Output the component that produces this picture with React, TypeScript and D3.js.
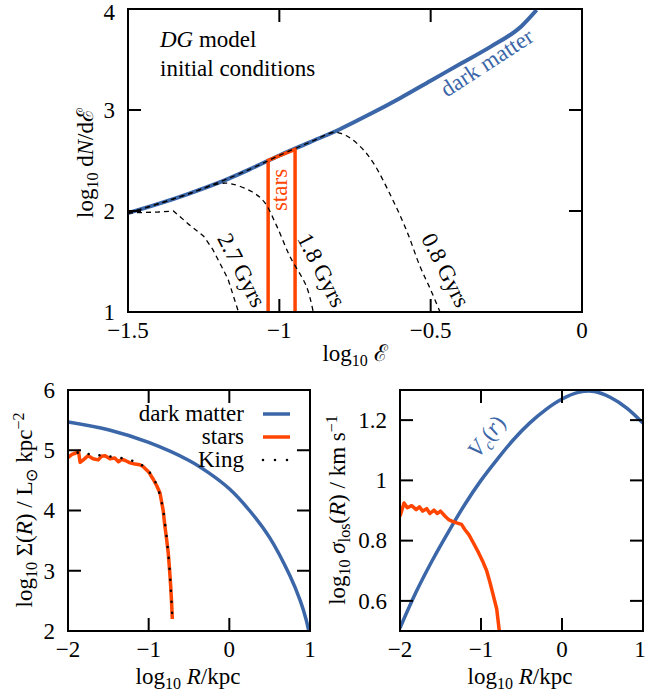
import React from "react";
import * as d3 from "d3";

// top panel: log10 dN/dE versus log10 E
const dmE = [-1.5, -1.4, -1.3, -1.2, -1.1, -1.0, -0.9, -0.8, -0.7, -0.6, -0.5, -0.4, -0.3, -0.2, -0.15];
const dmN = [1.98, 2.07, 2.17, 2.28, 2.41, 2.55, 2.68, 2.81, 2.96, 3.12, 3.29, 3.46, 3.63, 3.83, 3.99];

const gyr27E = [-1.5, -1.45, -1.4, -1.35, -1.3, -1.25, -1.22, -1.17, -1.135];
const gyr27N = [1.98, 1.985, 1.99, 2.0, 1.87, 1.75, 1.62, 1.33, 1.0];
const gyr18E = [-1.5, -1.4, -1.3, -1.2, -1.16, -1.09, -1.05, -1.01, -0.965, -0.91, -0.888];
const gyr18N = [1.98, 2.07, 2.17, 2.27, 2.27, 2.19, 2.09, 1.86, 1.55, 1.25, 1.0];
const gyr08E = [-1.5, -1.3, -1.1, -1.0, -0.9, -0.82, -0.8, -0.77, -0.73, -0.69, -0.63, -0.58, -0.535, -0.5, -0.469];
const gyr08N = [1.98, 2.17, 2.41, 2.55, 2.68, 2.78, 2.77, 2.73, 2.63, 2.48, 2.14, 1.81, 1.45, 1.22, 1.0];

const starsE = [-1.037, -0.948];
const starsTop = [2.5, 2.61];

const topXTicks = [-1.5, -1, -0.5, 0];
const topYTicks = [1, 2, 3, 4];

// bottom left: surface density
const dmR = [-2, -1.5, -1, -0.5, -0.25, 0, 0.25, 0.5, 0.75, 0.88, 0.95, 0.985];
const dmSigma = [5.47, 5.34, 5.13, 4.83, 4.62, 4.36, 4.0, 3.55, 2.92, 2.5, 2.2, 2.0];

const starR = [-2.0, -1.95, -1.91, -1.87, -1.85, -1.81, -1.75, -1.69, -1.625, -1.585, -1.54, -1.48, -1.42, -1.375, -1.33, -1.29, -1.23, -1.17, -1.11, -1.07, -1.0, -0.94, -0.9, -0.86, -0.82, -0.8, -0.78, -0.757, -0.74, -0.727, -0.715, -0.707];
const starSigma = [4.88, 4.93, 4.95, 4.98, 4.8, 4.84, 4.91, 4.86, 4.84, 4.9, 4.91, 4.86, 4.87, 4.81, 4.85, 4.83, 4.79, 4.77, 4.76, 4.73, 4.64, 4.51, 4.41, 4.29, 4.0, 3.75, 3.55, 3.29, 3.0, 2.74, 2.45, 2.2];

const kingR = [-1.88, -1.7, -1.5, -1.3, -1.15, -1.05, -0.97, -0.9, -0.85, -0.82, -0.79, -0.765, -0.745, -0.73, -0.715, -0.703];
const kingSigma = [4.96, 4.93, 4.9, 4.86, 4.8, 4.72, 4.6, 4.42, 4.2, 4.0, 3.7, 3.4, 3.1, 2.8, 2.45, 2.13];

const blXTicks = [-2, -1, 0, 1];
const blYTicks = [2, 3, 4, 5, 6];

// bottom right: velocity dispersion
const vcR = [-2, -1.8, -1.6, -1.4, -1.2, -1.0, -0.8, -0.6, -0.4, -0.2, 0, 0.2, 0.4, 0.6, 0.8, 1.0];
const vc = [0.51, 0.63, 0.735, 0.83, 0.92, 1.0, 1.07, 1.135, 1.19, 1.235, 1.27, 1.292, 1.295, 1.275, 1.24, 1.19];

const sigR = [-2.0, -1.95, -1.91, -1.856, -1.8, -1.76, -1.72, -1.67, -1.63, -1.58, -1.54, -1.5, -1.44, -1.4, -1.36, -1.3, -1.24, -1.2, -1.15, -1.095, -1.03, -0.972, -0.93, -0.889, -0.85, -0.806, -0.774];
const sig = [0.881, 0.925, 0.909, 0.916, 0.903, 0.912, 0.898, 0.906, 0.89, 0.901, 0.89, 0.898, 0.88, 0.87, 0.865, 0.859, 0.854, 0.837, 0.82, 0.793, 0.76, 0.727, 0.7, 0.661, 0.62, 0.573, 0.5];

const brXTicks = [-2, -1, 0, 1];
const brYTicks = [0.6, 0.8, 1, 1.2];

const BLUE = "#3b66a8";
const ORANGE = "#ff4500";
const FONT = "'Liberation Serif', serif";
const FS = 23;
const SUB = 16;
const fmt = d3.format("~g");

type Scale = d3.ScaleLinear<number, number>;

const pts = (xs: number[], ys: number[]) => xs.map((v, i) => [v, ys[i]] as [number, number]);

function Frame({ x, y, xTicks, yTicks }: { x: Scale; y: Scale; xTicks: number[]; yTicks: number[] }) {
	const [x0, x1] = x.range();
	const [y0, y1] = y.range();
	const tl = 13;
	return (
		<g>
			{xTicks.map(t => {
				// keep the last label inside the picture
				const px = Math.min(x(t), 640);
				return (
					<g key={"x" + t}>
						<line x1={x(t)} x2={x(t)} y1={y0} y2={y0 - tl} stroke="black" strokeWidth={2} />
						<line x1={x(t)} x2={x(t)} y1={y1} y2={y1 + tl} stroke="black" strokeWidth={2} />
						<text x={px} y={y0 + 26} textAnchor="middle">{fmt(t)}</text>
					</g>
				);
			})}
			{yTicks.map(t => (
				<g key={"y" + t}>
					<line x1={x0} x2={x0 + tl} y1={y(t)} y2={y(t)} stroke="black" strokeWidth={2} />
					<line x1={x1} x2={x1 - tl} y1={y(t)} y2={y(t)} stroke="black" strokeWidth={2} />
					<text x={x0 - 13} y={Math.max(y(t), 12)} dy="0.34em" textAnchor="end">{fmt(t)}</text>
				</g>
			))}
			<rect x={x0} y={y1} width={x1 - x0} height={y0 - y1} fill="none" stroke="black" strokeWidth={2} />
		</g>
	);
}

const Sub = ({ children }: { children: React.ReactNode }) => (
	<>
		<tspan dy="5" fontSize={SUB}>{children}</tspan>
		<tspan dy="-5"> </tspan>
	</>
);

export default function App() {
	// top panel
	const tx = d3.scaleLinear().domain([-1.5, 0]).range([128, 582]);
	const ty = d3.scaleLinear().domain([1, 4]).range([312, 9]);
	const tLine = d3.line<[number, number]>().x(d => tx(d[0])).y(d => ty(d[1])).curve(d3.curveMonotoneX);
	const tDash = d3.line<[number, number]>().x(d => tx(d[0])).y(d => ty(d[1])).curve(d3.curveCatmullRom);
	const tRaw = d3.line<[number, number]>().x(d => tx(d[0])).y(d => ty(d[1]));
	const bandPts: [number, number][] = [
		[starsE[0], 1], [starsE[0], starsTop[0]], [starsE[1], starsTop[1]], [starsE[1], 1],
	];

	// bottom left
	const lx = d3.scaleLinear().domain([-2, 1]).range([68, 310]);
	const ly = d3.scaleLinear().domain([2, 6]).range([631, 390]);
	const lSmooth = d3.line<[number, number]>().x(d => lx(d[0])).y(d => ly(d[1])).curve(d3.curveCatmullRom);
	const lRaw = d3.line<[number, number]>().x(d => lx(d[0])).y(d => ly(d[1]));

	// bottom right
	const rx = d3.scaleLinear().domain([-2, 1]).range([400, 643]);
	const ry = d3.scaleLinear().domain([0.5, 1.3]).range([631, 390]);
	const rSmooth = d3.line<[number, number]>().x(d => rx(d[0])).y(d => ry(d[1])).curve(d3.curveCatmullRom);
	const rRaw = d3.line<[number, number]>().x(d => rx(d[0])).y(d => ry(d[1]));

	return (
		<svg width={645} height={695} style={{ position: "absolute", left: 0, top: 0 }}
			fontFamily={FONT} fontSize={FS} fill="black">
			<defs>
				<clipPath id="ctop"><rect x={128} y={9} width={454} height={303} /></clipPath>
				<clipPath id="cbl"><rect x={68} y={390} width={242} height={241} /></clipPath>
				<clipPath id="cbr"><rect x={400} y={390} width={243} height={241} /></clipPath>
			</defs>

			{/* top panel */}
			<g clipPath="url(#ctop)">
				<path d={tLine(pts(dmE, dmN)) || ""} fill="none" stroke={BLUE} strokeWidth={4} />
				<path d={tRaw(bandPts) || ""} fill="none" stroke={ORANGE} strokeWidth={3.5} />
				<path d={tRaw(pts(gyr27E, gyr27N)) || ""} fill="none" stroke="black" strokeWidth={1.3} strokeDasharray="5,4" />
				{[pts(gyr18E, gyr18N), pts(gyr08E, gyr08N)].map((p, i) => (
					<path key={i} d={tDash(p) || ""} fill="none" stroke="black" strokeWidth={1.3} strokeDasharray="5,4" />
				))}
			</g>
			<Frame x={tx} y={ty} xTicks={topXTicks} yTicks={topYTicks} />
			<text x={160} y={47}><tspan fontStyle="italic">DG</tspan> model</text>
			<text x={160} y={76}>initial conditions</text>
			<text transform="translate(491,69) rotate(-33)" textAnchor="middle" fill={BLUE}>dark matter</text>
			<text transform="translate(287,190) rotate(-90)" textAnchor="middle" fill={ORANGE}>stars</text>
			<text transform="translate(242,270) rotate(63)" textAnchor="middle" dy="0.35em">2.7 Gyrs</text>
			<text transform="translate(322,270) rotate(63)" textAnchor="middle" dy="0.35em">1.8 Gyrs</text>
			<text transform="translate(446,270) rotate(63)" textAnchor="middle" dy="0.35em">0.8 Gyrs</text>
			<text x={355} y={361} textAnchor="middle">log<Sub>10</Sub> <tspan>ℰ</tspan></text>
			<text transform="translate(93,163) rotate(-90)" textAnchor="middle">
				log<Sub>10</Sub> d<tspan fontStyle="italic">N</tspan>/dℰ
			</text>

			{/* bottom left */}
			<g clipPath="url(#cbl)">
				<path d={lSmooth(pts(dmR, dmSigma)) || ""} fill="none" stroke={BLUE} strokeWidth={3.5} />
				<path d={lRaw(pts(starR, starSigma)) || ""} fill="none" stroke={ORANGE} strokeWidth={3.5} strokeLinejoin="round" />
				<path d={lSmooth(pts(kingR, kingSigma)) || ""} fill="none" stroke="black" strokeWidth={2.6}
					strokeDasharray="0,11" strokeLinecap="round" />
			</g>
			<Frame x={lx} y={ly} xTicks={blXTicks} yTicks={blYTicks} />
			<g textAnchor="end">
				<text x={244} y={421}>dark matter</text>
				<text x={244} y={444}>stars</text>
				<text x={244} y={467}>King</text>
			</g>
			<line x1={263} x2={290} y1={414} y2={414} stroke={BLUE} strokeWidth={3.5} />
			<line x1={263} x2={290} y1={437} y2={437} stroke={ORANGE} strokeWidth={3.5} />
			<line x1={263} x2={290} y1={460} y2={460} stroke="black" strokeWidth={2.6} strokeDasharray="0,12" strokeLinecap="round" />
			<text x={188} y={684} textAnchor="middle">log<Sub>10</Sub> <tspan fontStyle="italic">R</tspan>/kpc</text>
			<text transform="translate(32,510) rotate(-90)" textAnchor="middle">
				log<Sub>10</Sub> Σ(<tspan fontStyle="italic">R</tspan>) / L<tspan dy="5" fontSize={SUB}>⊙</tspan>
				<tspan dy="-5"> kpc</tspan><tspan dy="-8" fontSize={SUB}>−2</tspan>
			</text>

			{/* bottom right */}
			<g clipPath="url(#cbr)">
				<path d={rSmooth(pts(vcR, vc)) || ""} fill="none" stroke={BLUE} strokeWidth={3.5} />
				<path d={rRaw(pts(sigR, sig)) || ""} fill="none" stroke={ORANGE} strokeWidth={3.5} strokeLinejoin="round" />
			</g>
			<Frame x={rx} y={ry} xTicks={brXTicks} yTicks={brYTicks} />
			<text transform="translate(486,436) rotate(-52)" textAnchor="middle" dy="0.35em" fill={BLUE}>
				<tspan fontStyle="italic">V</tspan><tspan dy="5" fontSize={SUB} fontStyle="italic">c</tspan>
				<tspan dy="-5">(</tspan><tspan fontStyle="italic">r</tspan>)
			</text>
			<text x={520} y={684} textAnchor="middle">log<Sub>10</Sub> <tspan fontStyle="italic">R</tspan>/kpc</text>
			<text transform="translate(345,510) rotate(-90)" textAnchor="middle">
				log<Sub>10</Sub> <tspan fontStyle="italic">σ</tspan><tspan dy="5" fontSize={SUB}>los</tspan>
				<tspan dy="-5">(</tspan><tspan fontStyle="italic">R</tspan>) / km s<tspan dy="-8" fontSize={SUB}>−1</tspan>
			</text>
		</svg>
	);
}
